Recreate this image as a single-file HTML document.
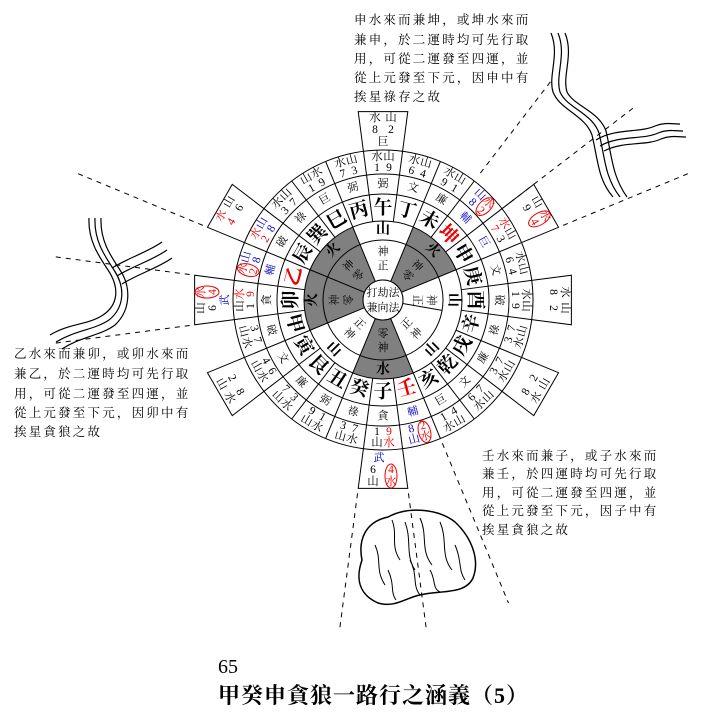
<!DOCTYPE html>
<html><head><meta charset="utf-8"><style>
html,body{margin:0;padding:0;background:#fff;}
svg{display:block;}
text{font-family:"Liberation Serif","Noto Serif CJK SC",serif;text-anchor:middle;dominant-baseline:central;fill:#000;}
.m{font-size:19px;font-weight:bold;}
.s{font-size:11px;}
.n{font-size:11.5px;}
.r{fill:#e00;}
.b{fill:#00c;}
.t{font-size:12.5px;text-anchor:start;letter-spacing:2.2px;dominant-baseline:auto;}
</style></head><body>
<svg width="710" height="721" viewBox="0 0 710 721" xmlns="http://www.w3.org/2000/svg">
<text class="t" x="354" y="24">申水來而兼坤，或坤水來而</text>
<text class="t" x="354" y="44">兼申，於二運時均可先行取</text>
<text class="t" x="354" y="63">用，可從二運發至四運，並</text>
<text class="t" x="354" y="82">從上元發至下元，因申中有</text>
<text class="t" x="354" y="101">挨星祿存之故</text>

<text class="t" x="14" y="358">乙水來而兼卯，或卯水來而</text>
<text class="t" x="14" y="378">兼乙，於二運時均可先行取</text>
<text class="t" x="14" y="398">用，可從二運發至四運，並</text>
<text class="t" x="14" y="417">從上元發至下元，因卯中有</text>
<text class="t" x="14" y="436">挨星貪狼之故</text>

<text class="t" x="482" y="460">壬水來而兼子，或子水來而</text>
<text class="t" x="482" y="478">兼壬，於四運時均可先行取</text>
<text class="t" x="482" y="497">用，可從二運發至四運，並</text>
<text class="t" x="482" y="515">從上元發至下元，因子中有</text>
<text class="t" x="482" y="534">挨星貪狼之故</text>

<text x="218" y="673" style="font-size:20px;text-anchor:start;dominant-baseline:auto;">65</text>
<text x="218" y="703" style="font-size:22px;font-weight:bold;text-anchor:start;dominant-baseline:auto;letter-spacing:1px;">甲癸申貪狼一路行之涵義（5）</text>

<g fill="none" stroke="#000" stroke-width="1.2">
<path d="M551,33 C560,55 548,75 553,92 C560,110 585,115 592,135 C598,160 598,180 613,197"/>
<path d="M558,33 C567,55 555,75 560,92 C567,108 592,113 599,133 C605,158 605,178 620,197"/>
<path d="M565,33 C574,55 562,75 567,92 C574,106 599,111 606,131 C612,156 612,176 627,197"/>
<path d="M596,140 C615,128 640,133 655,126 C665,122 672,124 680,124"/>
<path d="M600,146 C619,135 643,140 658,133 C668,129 675,131 683,131"/>
<path d="M604,151 C623,141 646,146 661,139 C671,135 678,137 686,137"/>
<path d="M89,218 C88,240 98,255 108,270 C120,288 118,305 103,315 C88,325 70,323 50,335"/>
<path d="M95,218 C94,240 104,255 114,270 C126,288 124,308 109,320 C94,330 76,330 56,342"/>
<path d="M101,218 C100,240 110,255 120,270 C132,288 130,311 115,325 C100,336 82,336 62,349"/>
<path d="M112,268 C128,258 148,252 162,242"/>
<path d="M117,276 C133,266 153,260 167,250"/>
<path d="M122,284 C138,274 158,268 172,258"/>
</g>
<g fill="none" stroke="#000">
<path stroke-width="1.5" d="M388,517 C410,505 440,510 455,522 C472,538 480,560 473,578 C465,595 440,590 420,595 C405,598 395,608 378,603 C360,595 355,580 362,560 C358,540 365,522 388,517 Z"/>
<path d="M392,520 C398,535 390,545 400,560"/><path d="M405,522 C412,540 405,555 415,570"/>
<path d="M420,518 C428,535 420,550 432,565"/><path d="M440,522 C448,540 440,555 452,570"/>
<path d="M375,545 C382,560 375,570 385,585"/><path d="M410,560 C418,575 412,585 420,595"/>
<path d="M455,545 C462,560 458,570 465,580"/><path d="M388,570 C395,585 390,592 396,600"/>
<path d="M430,570 C436,580 432,588 440,592"/>
</g>

<g transform="translate(383,300)">
<g stroke="#000" stroke-dasharray="5,5" stroke-width="1">
<line x1="0" y1="-160" x2="0" y2="-275" transform="rotate(37.5)"/>
<line x1="0" y1="-160" x2="0" y2="-315" transform="rotate(52.5)"/>
<line x1="0" y1="-195" x2="0" y2="-335" transform="rotate(67.5)"/>
<line x1="0" y1="-195" x2="0" y2="-330" transform="rotate(262.5)"/>
<line x1="0" y1="-195" x2="0" y2="-330" transform="rotate(277.5)"/>
<line x1="0" y1="-195" x2="0" y2="-332" transform="rotate(292.5)"/>
<line x1="0" y1="-155" x2="0" y2="-328" transform="rotate(157.5)"/>
<line x1="0" y1="-195" x2="0" y2="-330" transform="rotate(172.5)"/>
<line x1="0" y1="-195" x2="0" y2="-330" transform="rotate(187.5)"/>
</g>
<g fill="#808080" stroke="none">
<path d="M7.65,-18.48 L30.23,-72.99 A79 79 0 0 1 72.99,-30.23 L18.48,-7.65 A20 20 0 0 0 7.65,-18.48 Z"/>
<path d="M30.23,72.99 A79 79 0 0 1 -30.23,72.99 L-7.65,18.48 A20 20 0 0 0 7.65,18.48 Z"/>
<path d="M-72.99,30.23 A79 79 0 0 1 -72.99,-30.23 L-18.48,-7.65 A20 20 0 0 0 -18.48,7.65 Z"/>
<path d="M-72.99,-30.23 A79 79 0 0 1 -30.23,-72.99 L-7.65,-18.48 A20 20 0 0 0 -18.48,-7.65 Z"/>
</g>
<g fill="none" stroke="#000" stroke-width="1">
<circle r="20"/><circle r="60"/><circle r="79"/><circle r="106"/><circle r="126"/><circle r="150"/>
<line x1="0" y1="-20" x2="0" y2="-79" transform="rotate(22.5)"/>
<line x1="0" y1="-20" x2="0" y2="-79" transform="rotate(67.5)"/>
<line x1="0" y1="-20" x2="0" y2="-60" transform="rotate(100)"/>
<line x1="0" y1="-20" x2="0" y2="-79" transform="rotate(157.5)"/>
<line x1="0" y1="-20" x2="0" y2="-79" transform="rotate(202.5)"/>
<line x1="0" y1="-20" x2="0" y2="-79" transform="rotate(247.5)"/>
<line x1="0" y1="-20" x2="0" y2="-79" transform="rotate(292.5)"/>
<line x1="0" y1="-20" x2="0" y2="-79" transform="rotate(337.5)"/>
<line x1="0" y1="-79" x2="0" y2="-150" transform="rotate(7.5)"/>
<line x1="0" y1="-79" x2="0" y2="-150" transform="rotate(22.5)"/>
<line x1="0" y1="-79" x2="0" y2="-150" transform="rotate(37.5)"/>
<line x1="0" y1="-79" x2="0" y2="-150" transform="rotate(52.5)"/>
<line x1="0" y1="-79" x2="0" y2="-150" transform="rotate(67.5)"/>
<line x1="0" y1="-79" x2="0" y2="-150" transform="rotate(82.5)"/>
<line x1="0" y1="-79" x2="0" y2="-150" transform="rotate(97.5)"/>
<line x1="0" y1="-79" x2="0" y2="-150" transform="rotate(112.5)"/>
<line x1="0" y1="-79" x2="0" y2="-150" transform="rotate(127.5)"/>
<line x1="0" y1="-79" x2="0" y2="-150" transform="rotate(142.5)"/>
<line x1="0" y1="-79" x2="0" y2="-150" transform="rotate(157.5)"/>
<line x1="0" y1="-79" x2="0" y2="-150" transform="rotate(172.5)"/>
<line x1="0" y1="-79" x2="0" y2="-150" transform="rotate(187.5)"/>
<line x1="0" y1="-79" x2="0" y2="-150" transform="rotate(202.5)"/>
<line x1="0" y1="-79" x2="0" y2="-150" transform="rotate(217.5)"/>
<line x1="0" y1="-79" x2="0" y2="-150" transform="rotate(232.5)"/>
<line x1="0" y1="-79" x2="0" y2="-150" transform="rotate(247.5)"/>
<line x1="0" y1="-79" x2="0" y2="-150" transform="rotate(262.5)"/>
<line x1="0" y1="-79" x2="0" y2="-150" transform="rotate(277.5)"/>
<line x1="0" y1="-79" x2="0" y2="-150" transform="rotate(292.5)"/>
<line x1="0" y1="-79" x2="0" y2="-150" transform="rotate(307.5)"/>
<line x1="0" y1="-79" x2="0" y2="-150" transform="rotate(322.5)"/>
<line x1="0" y1="-79" x2="0" y2="-150" transform="rotate(337.5)"/>
<line x1="0" y1="-79" x2="0" y2="-150" transform="rotate(352.5)"/>
<path d="M-19.58,-148.72 L-24.80,-188.38 L24.80,-188.38 L19.58,-148.72"/>
<path d="M-19.58,-148.72 L-24.80,-188.38 L24.80,-188.38 L19.58,-148.72" transform="rotate(60)"/>
<path d="M-19.58,-148.72 L-24.80,-188.38 L24.80,-188.38 L19.58,-148.72" transform="rotate(90)"/>
<path d="M-19.58,-148.72 L-24.80,-188.38 L24.80,-188.38 L19.58,-148.72" transform="rotate(120)"/>
<path d="M-19.58,-148.72 L-24.80,-188.38 L24.80,-188.38 L19.58,-148.72" transform="rotate(180)"/>
<path d="M-19.58,-148.72 L-24.80,-188.38 L24.80,-188.38 L19.58,-148.72" transform="rotate(240)"/>
<path d="M-19.58,-148.72 L-24.80,-188.38 L24.80,-188.38 L19.58,-148.72" transform="rotate(270)"/>
<path d="M-19.58,-148.72 L-24.80,-188.38 L24.80,-188.38 L19.58,-148.72" transform="rotate(300)"/>
</g>
<circle r="20" fill="#fff" stroke="#000"/>
<text x="0" y="-7" style="font-size:11px">打劫法</text>
<text x="0" y="8" style="font-size:11px">兼向法</text>

<g>
<g><text class="s" y="-34">正</text><text class="s" y="-48">神</text><text class="m" y="-70" style="font-size:14px">山</text></g>
<g transform="rotate(45)"><text class="s" y="-34">零</text><text class="s" y="-48">神</text><text class="m" y="-70" style="font-size:14px">火</text></g>
<g transform="rotate(90)"><text class="s" y="-34">正</text><text class="s" y="-48">神</text><text class="m" y="-70" style="font-size:14px">山</text></g>
<g transform="rotate(-45)"><text class="s" y="34">正</text><text class="s" y="48">神</text><text class="m" y="70" style="font-size:14px">山</text></g>
<g><text class="s" y="34">零</text><text class="s" y="48">神</text><text class="m" y="70" style="font-size:14px">水</text></g>
<g transform="rotate(45)"><text class="s" y="34">正</text><text class="s" y="48">神</text><text class="m" y="70" style="font-size:14px">山</text></g>
<g transform="rotate(270)"><text class="s" y="-34">零</text><text class="s" y="-48">神</text><text class="m" y="-70" style="font-size:14px">火</text></g>
<g transform="rotate(315)"><text class="s" y="-34">零</text><text class="s" y="-48">神</text><text class="m" y="-70" style="font-size:14px">火</text></g>
</g>

<g transform="rotate(0)"><text class="m" y="-92">午</text><text class="s" y="-116">弼</text><text class="n" x="-6" y="-132">1</text><text class="n" x="6" y="-132">9</text><text class="n" x="-6" y="-143">水</text><text class="n" x="6" y="-143">山</text>
<text class="s" y="-158">巨</text><text class="n" x="-8" y="-170">8</text><text class="n" x="8" y="-170">2</text><text class="n" x="-8" y="-182">水</text><text class="n" x="8" y="-182">山</text></g>
<g transform="rotate(15)"><text class="m" y="-92">丁</text><text class="s" y="-116">文</text><text class="n" x="-6" y="-132">6</text><text class="n" x="6" y="-132">4</text><text class="n" x="-6" y="-143">水</text><text class="n" x="6" y="-143">山</text></g>
<g transform="rotate(30)"><text class="m" y="-92">未</text><text class="s" y="-116">廉</text><text class="n" x="-6" y="-132">9</text><text class="n" x="6" y="-132">1</text><text class="n" x="-6" y="-143">水</text><text class="n" x="6" y="-143">山</text></g>
<g transform="rotate(45)"><text class="m r" y="-92">坤</text><text class="s b" y="-116">輔</text><text class="n b" x="-6" y="-132">8</text><text class="n r" x="6" y="-132">2</text><text class="n b" x="-6" y="-143">山</text><text class="n r" x="6" y="-143">水</text><ellipse cx="6" cy="-138" rx="6" ry="11" fill="none" stroke="#e00"/></g>
<g transform="rotate(60)"><text class="m" y="-92">申</text><text class="s b" y="-116">巨</text><text class="n r" x="-6" y="-132">7</text><text class="n" x="6" y="-132">3</text><text class="n r" x="-6" y="-143">水</text><text class="n" x="6" y="-143">山</text>
<text class="n" x="-8" y="-170">9</text><text class="n" x="-8" y="-182">山</text><text class="n r" x="8" y="-170">4</text><text class="n r" x="8" y="-182">水</text><ellipse cx="8" cy="-176" rx="6" ry="12" fill="none" stroke="#e00"/></g>
<g transform="rotate(75)"><text class="m" y="-92">庚</text><text class="s" y="-116">文</text><text class="n" x="-6" y="-132">6</text><text class="n" x="6" y="-132">4</text><text class="n" x="-6" y="-143">水</text><text class="n" x="6" y="-143">山</text></g>
<g transform="rotate(90)"><text class="m" y="-92">酉</text><text class="s" y="-116">破</text><text class="n" x="-6" y="-132">1</text><text class="n" x="6" y="-132">9</text><text class="n" x="-6" y="-143">水</text><text class="n" x="6" y="-143">山</text>
<text class="n" x="-8" y="-170">8</text><text class="n" x="8" y="-170">2</text><text class="n" x="-8" y="-182">水</text><text class="n" x="8" y="-182">山</text></g>
<g transform="rotate(270)"><text class="m" y="-92">卯</text><text class="s" y="-116">貪</text><text class="n" x="-6" y="-132">1</text><text class="n r" x="6" y="-132">9</text><text class="n" x="-6" y="-143">山</text><text class="n r" x="6" y="-143">水</text>
<text class="s b" y="-158">武</text><text class="n" x="-8" y="-170">6</text><text class="n" x="-8" y="-182">山</text><text class="n r" x="8" y="-170">4</text><text class="n r" x="8" y="-182">水</text><ellipse cx="8" cy="-176" rx="6" ry="12" fill="none" stroke="#e00"/></g>
<g transform="rotate(285)"><text class="m r" y="-92">乙</text><text class="s b" y="-116">輔</text><text class="n b" x="6" y="-132">8</text><text class="n r" x="-6" y="-132">2</text><text class="n b" x="6" y="-143">山</text><text class="n r" x="-6" y="-143">水</text><ellipse cx="-6" cy="-138" rx="6" ry="11" fill="none" stroke="#e00"/></g>
<g transform="rotate(300)"><text class="m" y="-92">辰</text><text class="s" y="-116">破</text><text class="n b" x="6" y="-132">8</text><text class="n r" x="-6" y="-132">2</text><text class="n b" x="6" y="-143">山</text><text class="n r" x="-6" y="-143">水</text>
<text class="n" x="8" y="-170">6</text><text class="n" x="8" y="-182">山</text><text class="n r" x="-8" y="-170">4</text><text class="n r" x="-8" y="-182">水</text></g>
<g transform="rotate(315)"><text class="m" y="-92">巽</text><text class="s" y="-116">祿</text><text class="n" x="-6" y="-132">3</text><text class="n" x="6" y="-132">7</text><text class="n" x="-6" y="-143">水</text><text class="n" x="6" y="-143">山</text></g>
<g transform="rotate(330)"><text class="m" y="-92">巳</text><text class="s" y="-116">巨</text><text class="n" x="-6" y="-132">1</text><text class="n" x="6" y="-132">9</text><text class="n" x="-6" y="-143">山</text><text class="n" x="6" y="-143">水</text></g>
<g transform="rotate(345)"><text class="m" y="-92">丙</text><text class="s" y="-116">弼</text><text class="n" x="-6" y="-132">7</text><text class="n" x="6" y="-132">3</text><text class="n" x="-6" y="-143">水</text><text class="n" x="6" y="-143">山</text></g>

<g transform="rotate(-75)"><text class="m" y="92">辛</text><text class="s" y="116">祿</text><text class="n" x="-6" y="132">3</text><text class="n" x="6" y="132">7</text><text class="n" x="-6" y="143">水</text><text class="n" x="6" y="143">山</text></g>
<g transform="rotate(-60)"><text class="m" y="92">戌</text><text class="s" y="116">廉</text><text class="n" x="-6" y="132">3</text><text class="n" x="6" y="132">7</text><text class="n" x="-6" y="143">水</text><text class="n" x="6" y="143">山</text>
<text class="n" x="-8" y="170">8</text><text class="n" x="8" y="170">2</text><text class="n" x="-8" y="182">水</text><text class="n" x="8" y="182">山</text></g>
<g transform="rotate(-45)"><text class="m" y="92">乾</text><text class="s" y="116">文</text><text class="n" x="-6" y="132">6</text><text class="n" x="6" y="132">7</text><text class="n" x="-6" y="143">水</text><text class="n" x="6" y="143">山</text></g>
<g transform="rotate(-30)"><text class="m" y="92">亥</text><text class="s" y="116">巨</text><text class="n" x="-6" y="132">1</text><text class="n" x="6" y="132">4</text><text class="n" x="-6" y="143">水</text><text class="n" x="6" y="143">山</text></g>
<g transform="rotate(-15)"><text class="m r" y="92">壬</text><text class="s b" y="116">輔</text><text class="n b" x="-6" y="132">8</text><text class="n r" x="6" y="132">2</text><text class="n b" x="-6" y="143">山</text><text class="n r" x="6" y="143">水</text><ellipse cx="6" cy="138" rx="6" ry="11" fill="none" stroke="#e00"/></g>
<g transform="rotate(0)"><text class="m" y="92">子</text><text class="s" y="116">貪</text><text class="n" x="-6" y="132">1</text><text class="n r" x="6" y="132">9</text><text class="n" x="-6" y="143">山</text><text class="n r" x="6" y="143">水</text>
<text class="s b" x="-4" y="158">武</text><text class="n" x="-10" y="170">6</text><text class="n" x="-10" y="182">山</text><text class="n r" x="8" y="170">4</text><text class="n r" x="8" y="182">水</text><ellipse cx="8" cy="176" rx="6" ry="12" fill="none" stroke="#e00"/></g>
<g transform="rotate(15)"><text class="m" y="92">癸</text><text class="s" y="116">祿</text><text class="n" x="-6" y="132">3</text><text class="n" x="6" y="132">7</text><text class="n" x="-6" y="143">山</text><text class="n" x="6" y="143">水</text></g>
<g transform="rotate(30)"><text class="m" y="92">丑</text><text class="s" y="116">弼</text><text class="n" x="-6" y="132">9</text><text class="n" x="6" y="132">1</text><text class="n" x="-6" y="143">山</text><text class="n" x="6" y="143">水</text></g>
<g transform="rotate(45)"><text class="m" y="92">艮</text><text class="s" y="116">廉</text><text class="n" x="-6" y="132">7</text><text class="n" x="6" y="132">3</text><text class="n" x="-6" y="143">山</text><text class="n" x="6" y="143">水</text></g>
<g transform="rotate(60)"><text class="m" y="92">寅</text><text class="s" y="116">文</text><text class="n" x="-6" y="132">4</text><text class="n" x="6" y="132">6</text><text class="n" x="-6" y="143">山</text><text class="n" x="6" y="143">水</text>
<text class="n" x="-8" y="170">2</text><text class="n" x="8" y="170">8</text><text class="n" x="-8" y="182">山</text><text class="n" x="8" y="182">水</text></g>
<g transform="rotate(75)"><text class="m" y="92">甲</text><text class="s" y="116">破</text><text class="n" x="-6" y="132">3</text><text class="n" x="6" y="132">7</text><text class="n" x="-6" y="143">山</text><text class="n" x="6" y="143">水</text></g>
</g>
</svg>
</body></html>
